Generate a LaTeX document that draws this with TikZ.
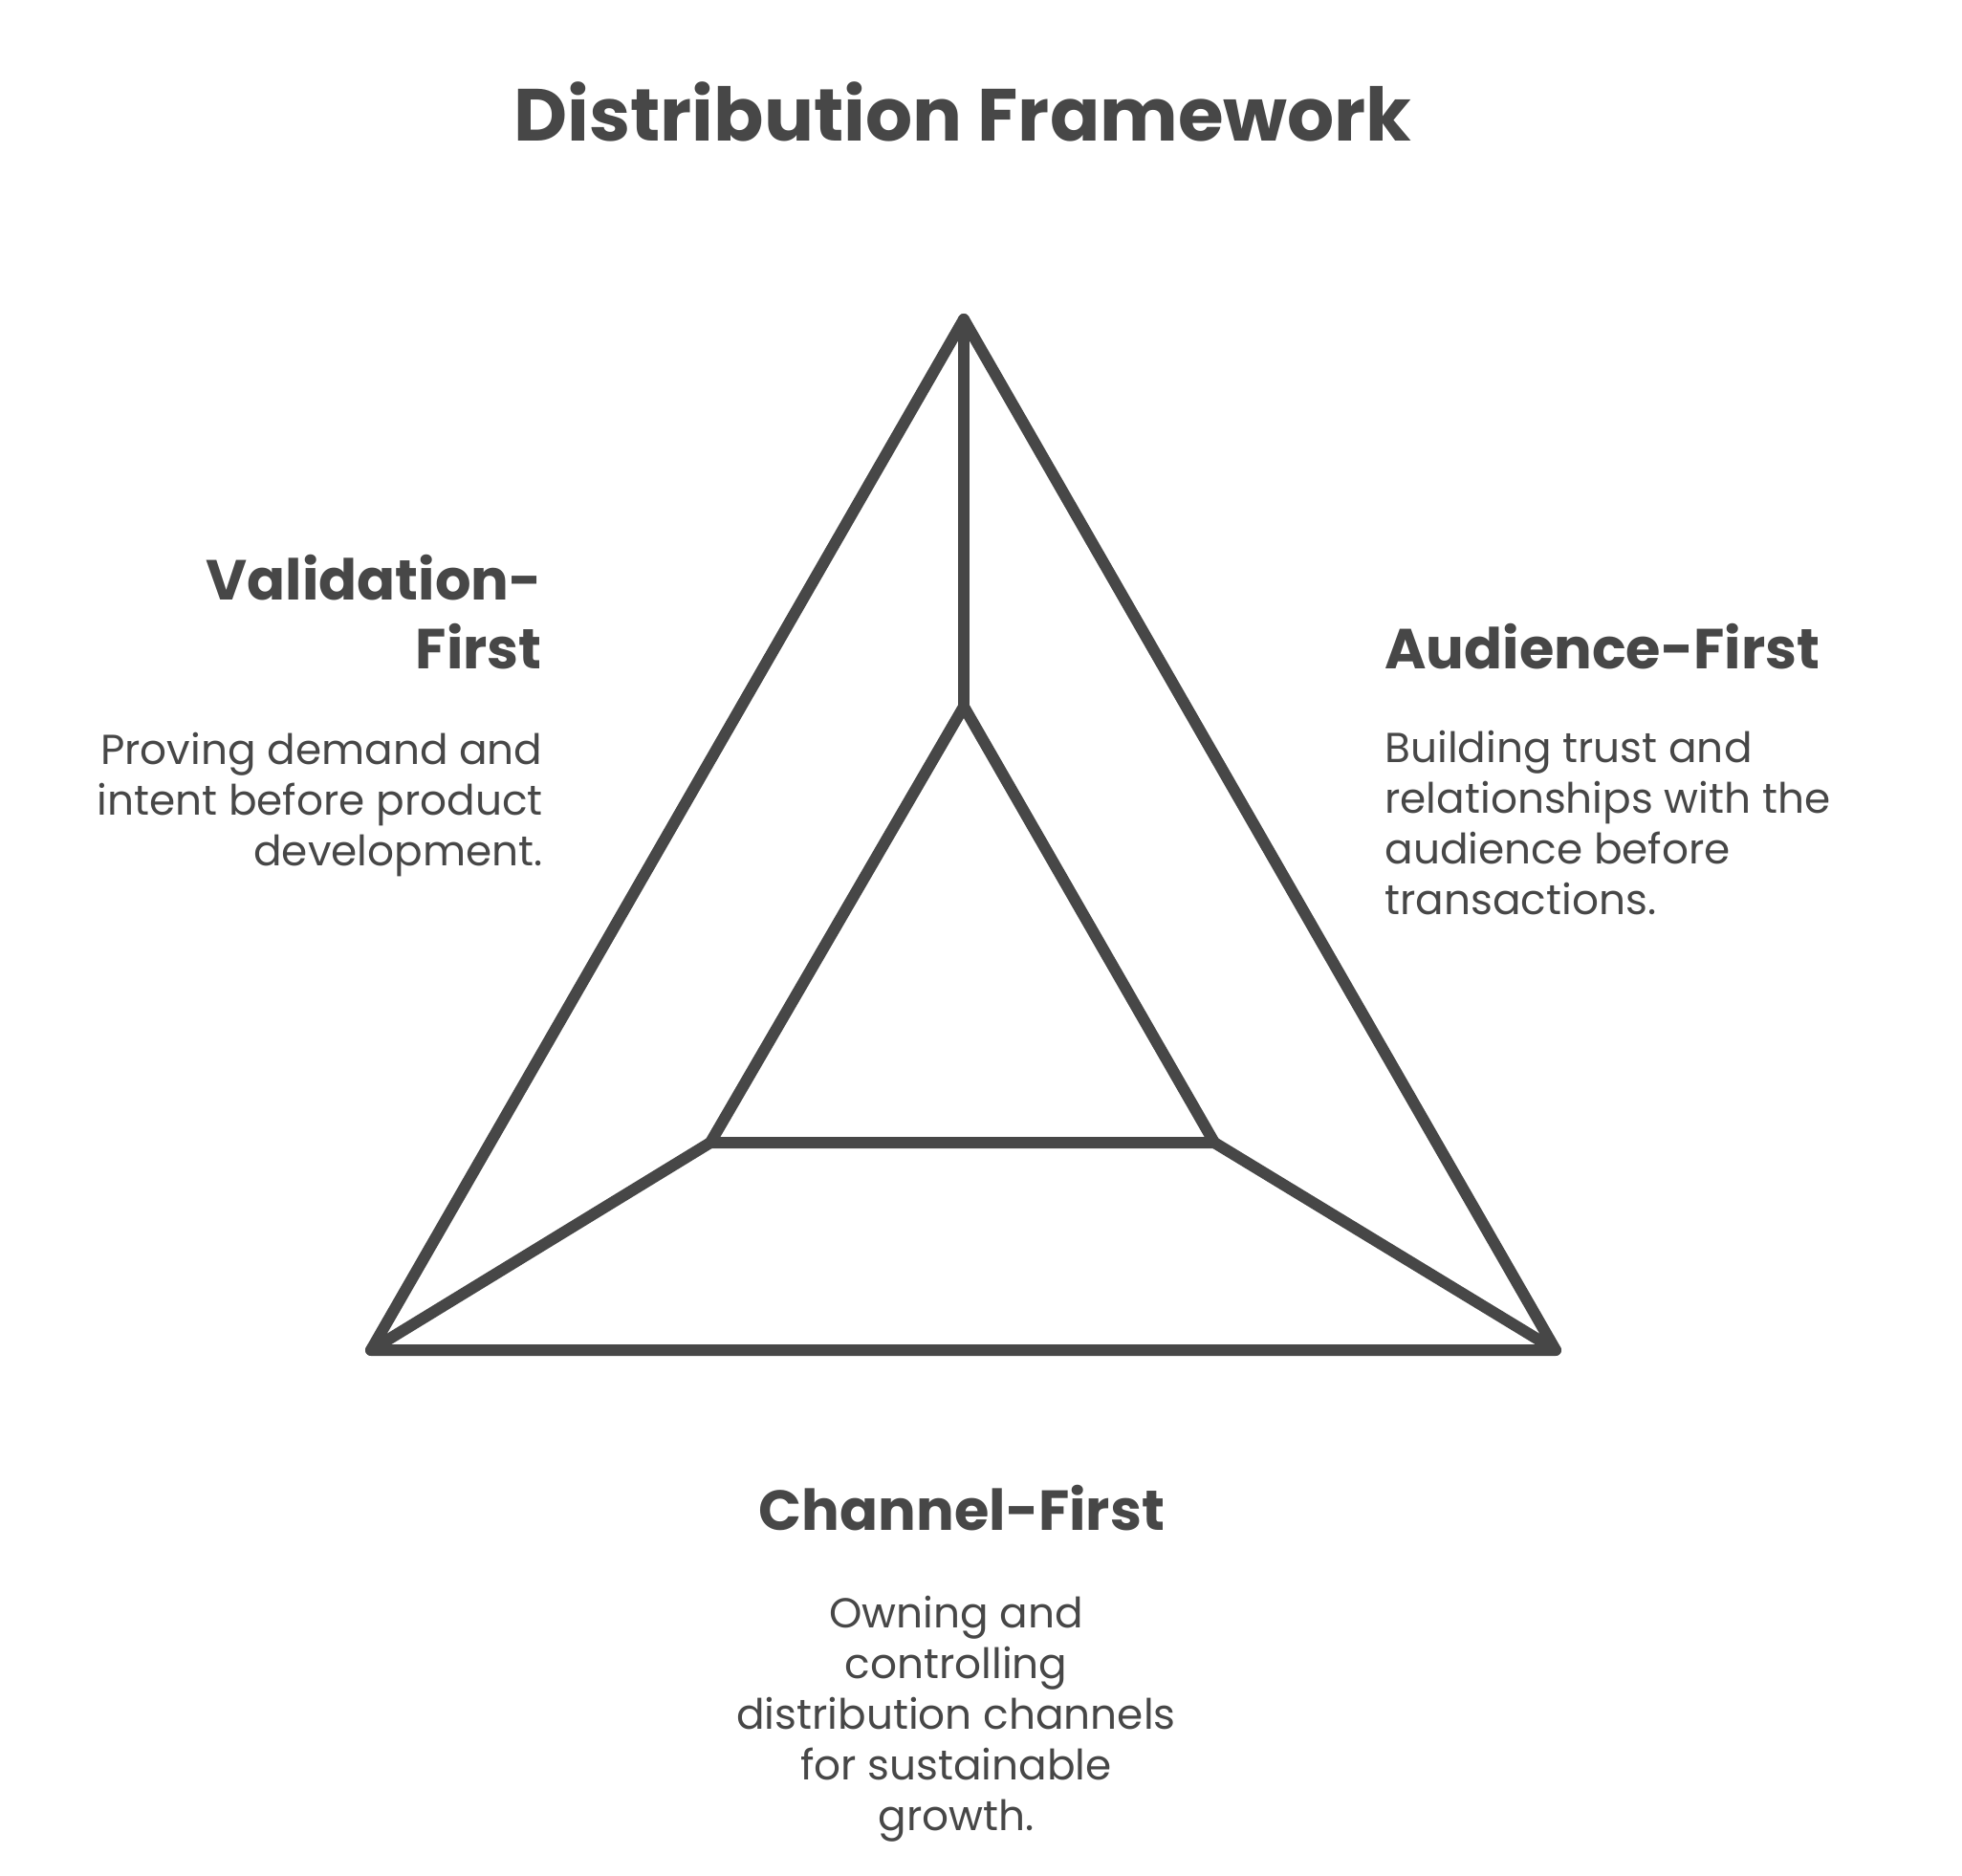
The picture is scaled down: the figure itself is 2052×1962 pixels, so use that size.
\documentclass[tikz,border=0pt]{standalone}
\usepackage{fontspec}
\setmainfont{Poppins}
\definecolor{ink}{HTML}{474747}
\tikzset{
  edge/.style={draw=ink, line width=6pt, line cap=round, line join=round},
  titletext/.style={text=ink, font=\fontsize{38.6}{44}\selectfont\bfseries, inner sep=0pt},
  headtext/.style={text=ink, font=\fontsize{29.5}{34}\selectfont\bfseries, inner sep=0pt},
  bodytext/.style={text=ink, font=\fontsize{21.9}{26}\selectfont, inner sep=0pt}
}
\begin{document}
\begin{tikzpicture}[x=0.5pt,y=-0.5pt]
\useasboundingbox (0,0) rectangle (2052,1962);
% outer triangle
\coordinate (A) at (1008,334);
\coordinate (BL) at (388,1412);
\coordinate (BR) at (1627,1412);
% inner triangle
\coordinate (IA) at (1008,739);
\coordinate (IBL) at (743,1195);
\coordinate (IBR) at (1270,1195);
\draw[edge] (A) -- (BL) -- (BR) -- cycle;
\draw[edge] (IA) -- (IBL) -- (IBR) -- cycle;
\draw[edge] (A) -- (IA);
\draw[edge] (BL) -- (IBL);
\draw[edge] (BR) -- (IBR);
% title
\node[titletext, anchor=base] (title) at (1007,148) {Distribution Framework};
% Validation-First
\node[headtext, anchor=base east] (v1) at (567,628) {Validation-};
\node[headtext, anchor=base east] (v2) at (567,700) {First};
\node[bodytext, anchor=base east] (vd1) at (568,800) {Proving demand and};
\node[bodytext, anchor=base east] (vd2) at (568,853) {intent before product};
\node[bodytext, anchor=base east] (vd3) at (568,906) {development.};
% Audience-First
\node[headtext, anchor=base west] (a1) at (1448,700) {Audience-First};
\node[bodytext, anchor=base west] (ad1) at (1448,798) {Building trust and};
\node[bodytext, anchor=base west] (ad2) at (1448,851) {relationships with the};
\node[bodytext, anchor=base west] (ad3) at (1448,904) {audience before};
\node[bodytext, anchor=base west] (ad4) at (1448,957) {transactions.};
% Channel-First
\node[headtext, anchor=base] (c1) at (1006,1600) {Channel-First};
\node[bodytext, anchor=base] (cd1) at (1000,1702) {Owning and};
\node[bodytext, anchor=base] (cd2) at (1000,1755) {controlling};
\node[bodytext, anchor=base] (cd3) at (1000,1808) {distribution channels};
\node[bodytext, anchor=base] (cd4) at (1000,1861) {for sustainable};
\node[bodytext, anchor=base] (cd5) at (1000,1914) {growth.};
\end{tikzpicture}
\end{document}
